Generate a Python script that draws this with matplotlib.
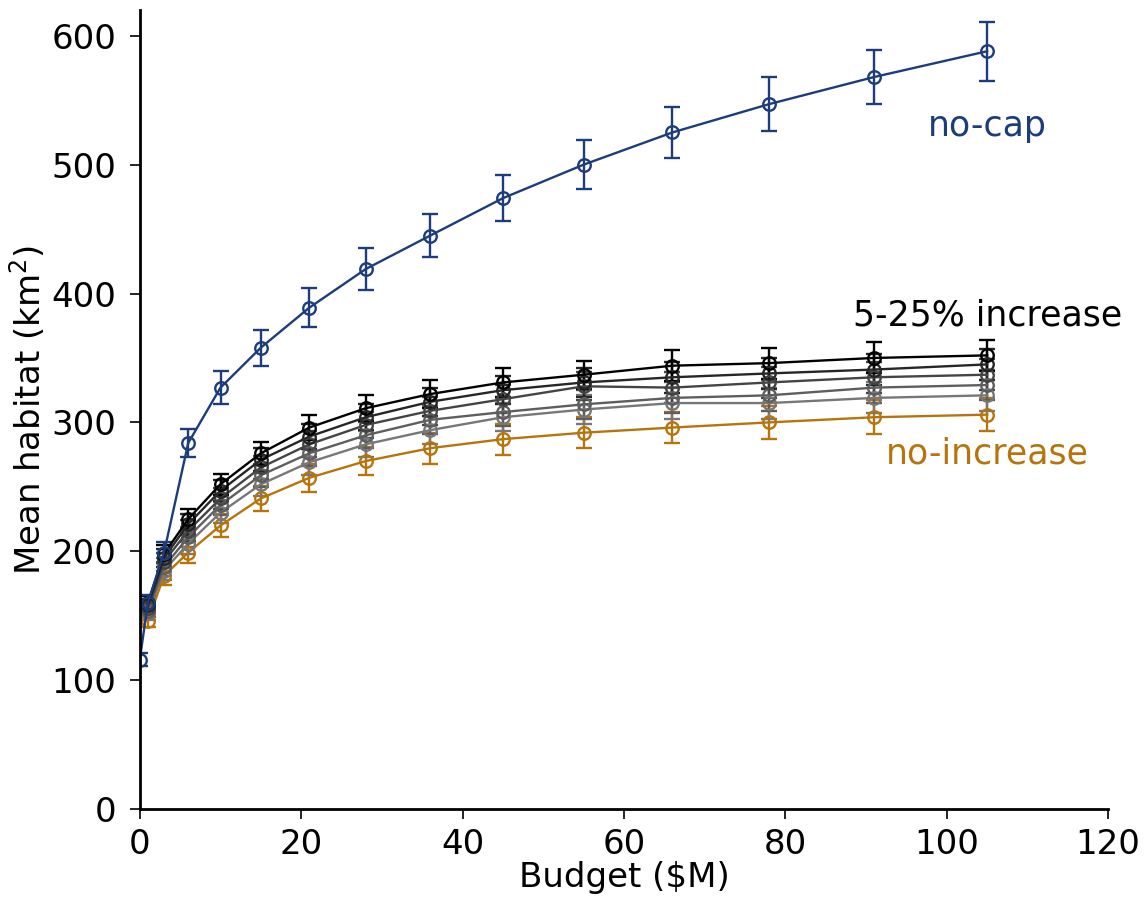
import matplotlib
matplotlib.use("Agg")
import matplotlib.pyplot as plt

plt.rcParams['font.family'] = ['DejaVu Sans']

budget_cap = [0, 1, 3, 6, 10, 15, 21, 28, 36, 45, 55, 66, 78, 91, 105]
nocap = [116, 160, 199, 284, 327, 358, 389, 419, 445, 474, 500, 525, 547, 568, 588]
nocap_err = [5, 6, 8, 11, 13, 14, 15, 16, 17, 18, 19, 20, 21, 21, 23]

budget = [1, 3, 6, 10, 15, 21, 28, 36, 45, 55, 66, 78, 91, 105]
noinc = [146, 181, 199, 220, 241, 257, 270, 280, 287, 292, 296, 300, 304, 306]
noinc_err = [5, 7, 8, 9, 10, 11, 11, 12, 12, 12, 12, 13, 13, 13]

inc5 = [152, 185, 206, 230, 252, 269, 283, 294, 304, 310, 315, 315, 319, 321]
inc10 = [154, 188, 211, 236, 259, 276, 290, 302, 308, 314, 319, 321, 327, 329]
inc15 = [156, 192, 216, 241, 265, 283, 298, 309, 318, 328, 327, 331, 335, 337]
inc20 = [158, 195, 221, 247, 271, 289, 304, 316, 325, 331, 335, 338, 341, 345]
inc25 = [160, 198, 225, 252, 276, 296, 311, 322, 331, 337, 344, 346, 350, 352]
inc_err = [5, 7, 8, 8, 9, 10, 10, 11, 11, 11, 12, 12, 12, 12]

blue = '#1c3c7c'
orange = '#b8740c'
grays = ['#777777', '#5e5e5e', '#444444', '#262626', '#000000']

fig = plt.figure(figsize=(11.46, 9.09), dpi=100)
ax = fig.add_axes([0.122, 0.11, 0.845, 0.879])

style = dict(marker='o', mfc='none', ms=9, mew=1.7, lw=1.7, capsize=6, elinewidth=1.7, capthick=1.7)

ax.errorbar(budget, noinc, yerr=noinc_err, color=orange, **style)
for vals, c in zip([inc5, inc10, inc15, inc20, inc25], grays):
    ax.errorbar(budget, vals, yerr=inc_err, color=c, **style)
ax.errorbar(budget_cap, nocap, yerr=nocap_err, color=blue, **style)

ax.text(105, 530, 'no-cap', color=blue, fontsize=25, ha='center', va='center')
ax.text(105, 383, '5-25% increase', color='black', fontsize=25, ha='center', va='center')
ax.text(105, 276, 'no-increase', color=orange, fontsize=25, ha='center', va='center')

ax.set_xlim(0, 120)
ax.set_ylim(0, 620)
ax.set_xticks([0, 20, 40, 60, 80, 100, 120])
ax.set_yticks([0, 100, 200, 300, 400, 500, 600])
ax.spines['top'].set_visible(False)
ax.spines['right'].set_visible(False)
ax.spines['left'].set_linewidth(2)
ax.spines['bottom'].set_linewidth(2)
ax.tick_params(direction='out', length=7, width=1.2, labelsize=24.5, pad=10)
ax.tick_params(axis='x', pad=7)
ax.set_xlabel('Budget ($M)', fontsize=24.5, labelpad=0)
ax.set_ylabel('Mean habitat (km$^2$)', fontsize=24.5, labelpad=3)

fig.savefig('out.png', dpi=100)
